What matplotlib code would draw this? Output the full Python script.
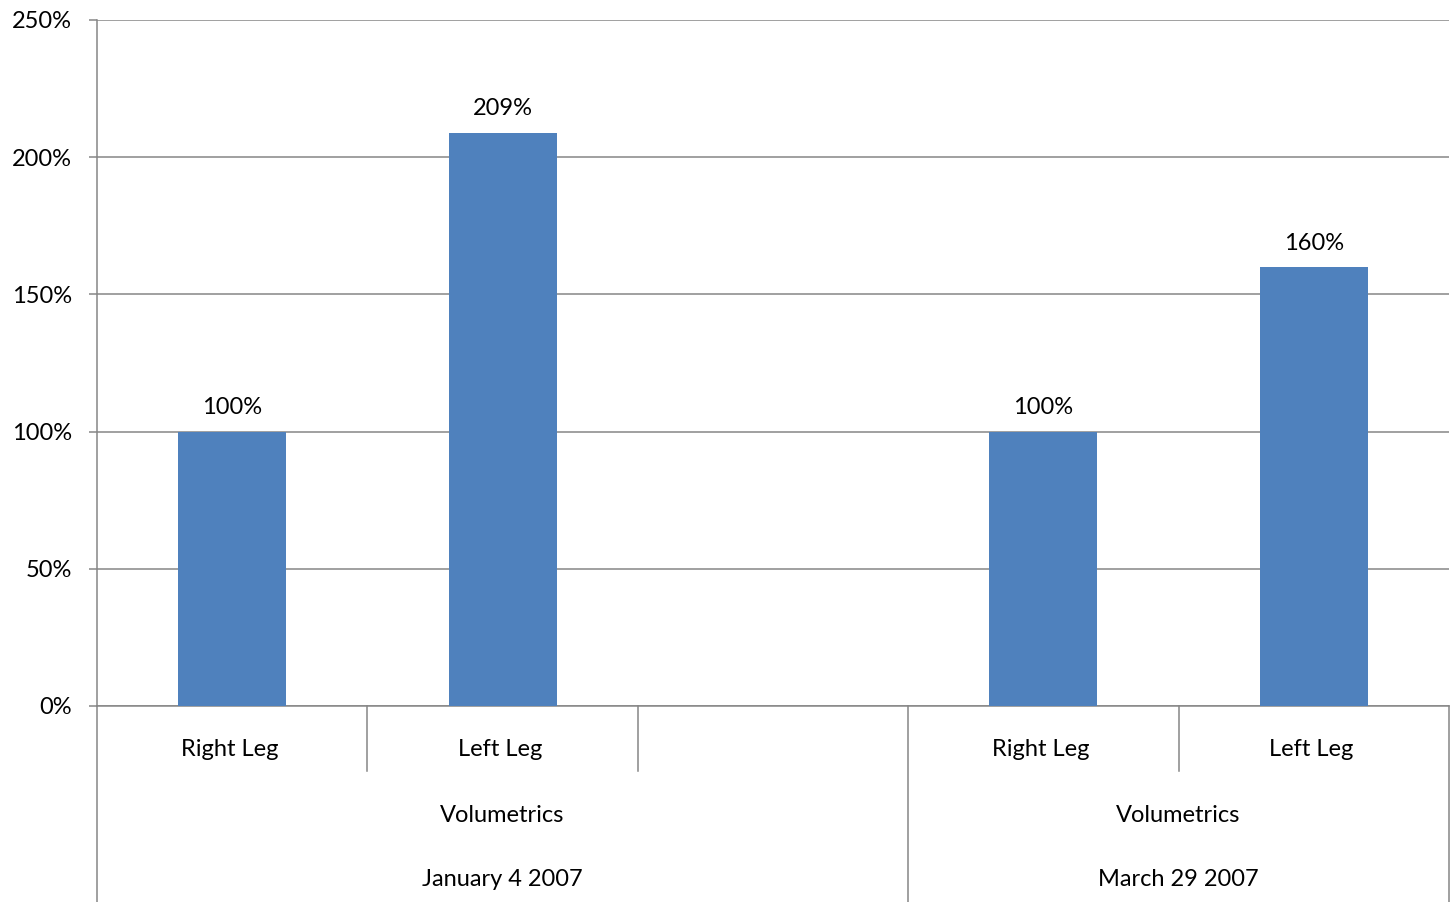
import matplotlib.pyplot as plt
from matplotlib.ticker import FuncFormatter

plt.rcParams['font.family'] = ['Lato', 'DejaVu Sans']

# data
legs = ["Right Leg", "Left Leg", "", "Right Leg", "Left Leg"]
values = [1.00, 2.09, None, 1.00, 1.60]
measures = ["Volumetrics", "Volumetrics"]
dates = ["January 4 2007", "March 29 2007"]
group_spans = [(-0.5, 2.5), (2.5, 4.5)]

BAR = "#4F81BD"
GRID = "#868686"
FS = 17

fig = plt.figure(figsize=(14.54, 9.02), dpi=100)
W, H = 1454, 902
ax = fig.add_axes([97 / W, (H - 706) / H, (1449 - 97) / W, (706 - 20) / H])

xs = [i for i, v in enumerate(values) if v is not None]
hs = [v for v in values if v is not None]
ax.bar(xs, hs, width=0.4, color=BAR, zorder=3)
for x, v in zip(xs, hs):
    ax.annotate(f"{v * 100:.0f}%", (x, v), xytext=(0, 9.5), textcoords="offset points",
                ha="center", va="bottom", fontsize=FS)

ax.set_xlim(-0.5, len(legs) - 0.5)
ax.set_ylim(0, 2.5)
ax.set_yticks([0, 0.5, 1.0, 1.5, 2.0, 2.5])
ax.yaxis.set_major_formatter(FuncFormatter(lambda v, p: f"{v * 100:.0f}%"))
ax.tick_params(axis="y", length=6, width=1.1, color=GRID, pad=12, labelsize=FS)
ax.set_xticks([])
ax.grid(axis="y", color=GRID, linewidth=1.1, zorder=0)
ax.set_axisbelow(True)
for s in ["top", "right"]:
    ax.spines[s].set_visible(False)
for s in ["left", "bottom"]:
    ax.spines[s].set_color(GRID)
    ax.spines[s].set_linewidth(1.1)

# multi-level category axis
tr = ax.get_xaxis_transform()
lvl1 = -65 / 686
bottom = -196 / 686
kw = dict(transform=tr, clip_on=False, color=GRID, linewidth=1.1)
ax.plot([-0.5, -0.5], [0, bottom], **kw)
for i in range(len(legs)):
    edge = i + 0.5
    full = any(abs(edge - e) < 1e-9 for _, e in group_spans)
    ax.plot([edge, edge], [0, bottom if full else lvl1], **kw)
    if legs[i]:
        ax.text(i - 0.01, -44 / 686, legs[i], transform=tr, ha="center", va="center", fontsize=FS)
for (a, b), m, d in zip(group_spans, measures, dates):
    c = (a + b) / 2
    ax.text(c, -109 / 686, m, transform=tr, ha="center", va="center", fontsize=FS)
    ax.text(c, -173 / 686, d, transform=tr, ha="center", va="center", fontsize=FS)

fig.savefig("out.png", dpi=100)
